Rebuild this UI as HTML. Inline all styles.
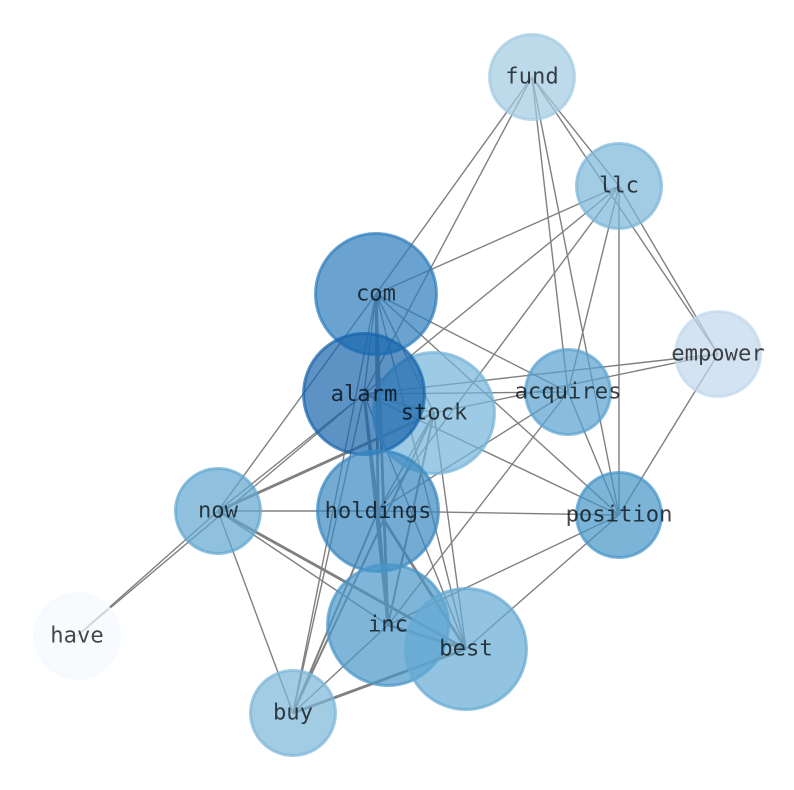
<!DOCTYPE html>
<html><head><meta charset="utf-8"><style>
html,body{margin:0;padding:0;background:#fff}
svg{display:block}
text{font-family:"DejaVu Sans Mono","Liberation Mono",monospace;font-size:22.2px;text-anchor:middle;fill:#000;fill-opacity:.72}
.e{stroke:#808080;stroke-width:1.4;fill:none}
.m{stroke:#808080;stroke-width:2;fill:none}
.t{stroke:#808080;stroke-width:2.8;fill:none}
circle{stroke-width:3;fill-opacity:.7;stroke-opacity:.7}
</style></head><body>
<svg width="794" height="790" viewBox="0 0 794 790" xmlns="http://www.w3.org/2000/svg">
<g class="edges">
<line class="e" x1="532" y1="77" x2="376" y2="294"/>
<line class="e" x1="532" y1="77" x2="364" y2="394"/>
<line class="e" x1="532" y1="77" x2="619" y2="186"/>
<line class="e" x1="532" y1="77" x2="718" y2="354"/>
<line class="e" x1="532" y1="77" x2="568" y2="392"/>
<line class="e" x1="532" y1="77" x2="619" y2="515"/>
<line class="e" x1="619" y1="186" x2="376" y2="294"/>
<line class="e" x1="619" y1="186" x2="364" y2="394"/>
<line class="e" x1="619" y1="186" x2="378" y2="511"/>
<line class="e" x1="619" y1="186" x2="568" y2="392"/>
<line class="e" x1="619" y1="186" x2="619" y2="515"/>
<line class="e" x1="619" y1="186" x2="718" y2="354"/>
<line class="e" x1="718" y1="354" x2="364" y2="394"/>
<line class="e" x1="718" y1="354" x2="434" y2="413"/>
<line class="e" x1="718" y1="354" x2="619" y2="515"/>
<line class="e" x1="568" y1="392" x2="376" y2="294"/>
<line class="e" x1="568" y1="392" x2="364" y2="394"/>
<line class="e" x1="568" y1="392" x2="378" y2="511"/>
<line class="e" x1="568" y1="392" x2="388" y2="625"/>
<line class="e" x1="568" y1="392" x2="619" y2="515"/>
<line class="e" x1="619" y1="515" x2="376" y2="294"/>
<line class="e" x1="619" y1="515" x2="364" y2="394"/>
<line class="e" x1="619" y1="515" x2="378" y2="511"/>
<line class="e" x1="619" y1="515" x2="388" y2="625"/>
<line class="e" x1="619" y1="515" x2="466" y2="649"/>
<line class="e" x1="376" y1="294" x2="364" y2="394"/>
<line class="e" x1="376" y1="294" x2="434" y2="413"/>
<line class="t" x1="376" y1="294" x2="378" y2="511"/>
<line class="t" x1="376" y1="294" x2="388" y2="625"/>
<line class="e" x1="376" y1="294" x2="466" y2="649"/>
<line class="e" x1="376" y1="294" x2="218" y2="511"/>
<line class="e" x1="376" y1="294" x2="293" y2="713"/>
<line class="e" x1="364" y1="394" x2="434" y2="413"/>
<line class="e" x1="364" y1="394" x2="218" y2="511"/>
<line class="e" x1="364" y1="394" x2="77" y2="636"/>
<line class="t" x1="364" y1="394" x2="378" y2="511"/>
<line class="t" x1="364" y1="394" x2="388" y2="625"/>
<line class="e" x1="364" y1="394" x2="466" y2="649"/>
<line class="e" x1="364" y1="394" x2="293" y2="713"/>
<line class="t" x1="434" y1="413" x2="218" y2="511"/>
<line class="e" x1="434" y1="413" x2="378" y2="511"/>
<line class="m" x1="434" y1="413" x2="388" y2="625"/>
<line class="e" x1="434" y1="413" x2="466" y2="649"/>
<line class="m" x1="434" y1="413" x2="293" y2="713"/>
<line class="e" x1="218" y1="511" x2="77" y2="636"/>
<line class="e" x1="218" y1="511" x2="378" y2="511"/>
<line class="e" x1="218" y1="511" x2="388" y2="625"/>
<line class="t" x1="218" y1="511" x2="466" y2="649"/>
<line class="e" x1="218" y1="511" x2="293" y2="713"/>
<line class="t" x1="378" y1="511" x2="388" y2="625"/>
<line class="t" x1="378" y1="511" x2="466" y2="649"/>
<line class="m" x1="378" y1="511" x2="293" y2="713"/>
<line class="t" x1="388" y1="625" x2="466" y2="649"/>
<line class="e" x1="388" y1="625" x2="293" y2="713"/>
<line class="t" x1="466" y1="649" x2="293" y2="713"/>
</g>
<g class="nodes">
<circle cx="532" cy="77" r="42.5" fill="#a1cbe2" stroke="#a1cbe2"/>
<circle cx="619" cy="186" r="42.5" fill="#7ab5d9" stroke="#7ab5d9"/>
<circle cx="718" cy="354" r="42.5" fill="#c1d7ec" stroke="#c1d7ec"/>
<circle cx="77" cy="636" r="42.5" fill="#f5fafe" stroke="#f5fafe"/>
<circle cx="434" cy="413" r="60.5" fill="#74b3d9" stroke="#74b3d9"/>
<circle cx="376" cy="294" r="60.5" fill="#2c7cbc" stroke="#2c7cbc"/>
<circle cx="364" cy="394" r="60.5" fill="#1764ab" stroke="#1764ab"/>
<circle cx="568" cy="392" r="42.5" fill="#58a1cf" stroke="#58a1cf"/>
<circle cx="218" cy="511" r="42.5" fill="#60a7d2" stroke="#60a7d2"/>
<circle cx="378" cy="511" r="60.5" fill="#3787c0" stroke="#3787c0"/>
<circle cx="619" cy="515" r="42.5" fill="#4594c7" stroke="#4594c7"/>
<circle cx="388" cy="625" r="60.5" fill="#4795c8" stroke="#4795c8"/>
<circle cx="466" cy="649" r="60.5" fill="#64a9d3" stroke="#64a9d3"/>
<circle cx="293" cy="713" r="42.5" fill="#7ab5d9" stroke="#7ab5d9"/>
</g>
<g class="labels">
<text x="532" y="83.5">fund</text>
<text x="619" y="192.5">llc</text>
<text x="376" y="300.5">com</text>
<text x="718" y="360.5">empower</text>
<text x="568" y="398.5">acquires</text>
<text x="364" y="401">alarm</text>
<text x="434" y="419.5">stock</text>
<text x="218" y="517.5">now</text>
<text x="378" y="518">holdings</text>
<text x="619" y="521.5">position</text>
<text x="388" y="631.5">inc</text>
<text x="466" y="655.5">best</text>
<text x="77" y="642.5">have</text>
<text x="293" y="719.5">buy</text>
</g>
</svg>
</body></html>
